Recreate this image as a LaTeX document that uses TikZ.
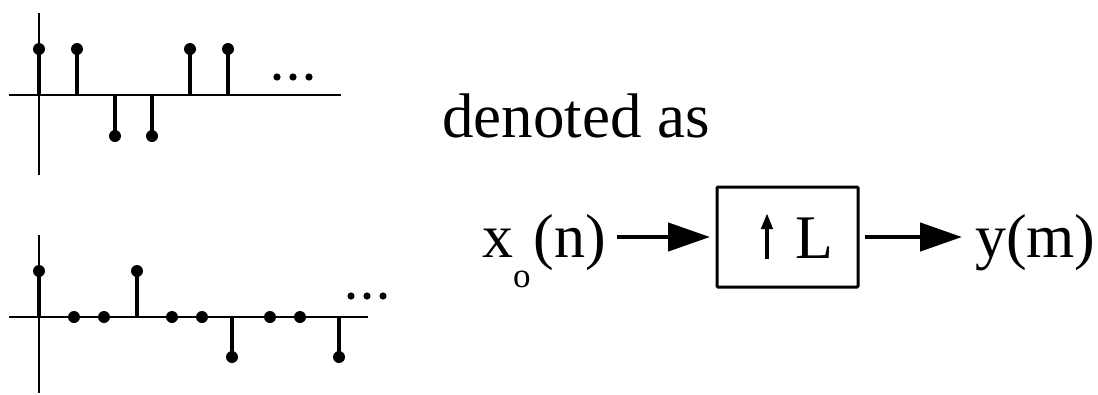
\documentclass[tikz,border=0pt]{standalone}
\usepackage{fontspec}
\setmainfont{Liberation Serif}
\usetikzlibrary{arrows.meta}
\tikzset{
  axis/.style={line width=2pt},
  stem/.style={line width=4pt},
  dotmark/.style={fill=black},
  bigtxt/.style={inner sep=0pt, font=\fontsize{62}{72}\selectfont},
  flow/.style={line width=4.5pt, -{Triangle[length=42pt,width=28pt]}},
  blockbox/.style={draw, line width=3pt, rounded corners=1pt, minimum width=141pt, minimum height=100pt, inner sep=0pt, outer sep=7pt},
}
\begin{document}
\begin{tikzpicture}[x=1pt,y=-1pt]
\useasboundingbox (0,0) rectangle (1098,394);
% top stem plot
\draw[axis] (39,13) -- (39,175);
\draw[axis] (9,95) -- (341,95);
\foreach \x/\y in {39/49,77/49,115/136,152/136,190/49,228/49}{
  \draw[stem] (\x,95) -- (\x,\y);
  \fill[dotmark] (\x,\y) circle (6pt);
}
\foreach \x in {277,293,309}{\fill[dotmark] (\x,77) circle (3.6pt);}
% bottom stem plot
\draw[axis] (39,235) -- (39,393);
\draw[axis] (9,317) -- (368,317);
\foreach \x/\y in {39/271,74/317,104/317,137/271,172/317,202/317,232/357,270/317,300/317,339/357}{
  \draw[stem] (\x,317) -- (\x,\y);
  \fill[dotmark] (\x,\y) circle (6pt);
}
\foreach \x in {351,367,383}{\fill[dotmark] (\x,296) circle (3.6pt);}
% text
\node[bigtxt, anchor=base west, font=\fontsize{63}{72}\selectfont] (den) at (442,137) {denoted as};
% block diagram
\node[blockbox] (box) at (787.5,237) {};
\node[bigtxt, anchor=base west, outer xsep=11pt] (in) at (471,257) {x\kern0pt\raisebox{-30pt}{\fontsize{35}{35}\selectfont o}\kern3pt(n)};
\node[bigtxt, anchor=base west, outer xsep=13pt] (out) at (962,257) {y(m)};
\node[bigtxt, anchor=base west] (L) at (795,258) {L};
\coordinate (ub) at (767,259);
\coordinate (ut) at (767,213);
\draw[line width=4pt, -{Triangle[length=16pt,width=11pt]}] (ub) -- (ut);
\draw[flow] (in.east |- box.west) -- (box.west);
\draw[flow] (box.east) -- (out.west |- box.east);
\end{tikzpicture}
\end{document}
